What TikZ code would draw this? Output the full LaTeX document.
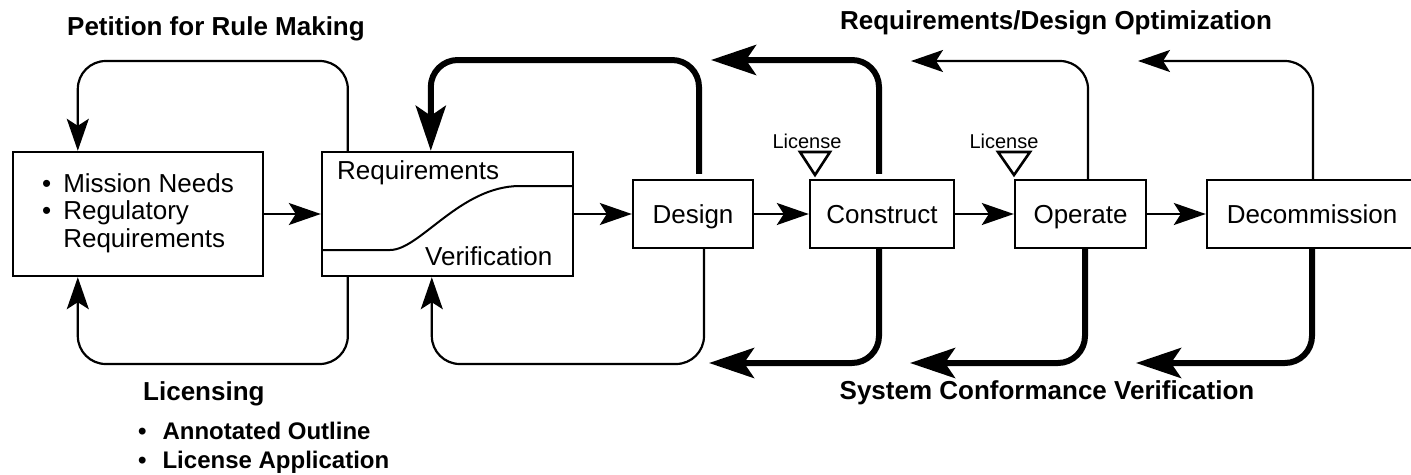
\documentclass[tikz,border=0pt]{standalone}
\usepackage{fontspec}
\setmainfont{Liberation Sans}
\usetikzlibrary{arrows.meta,calc}

\begin{document}
\begin{tikzpicture}[x=1pt,y=-1pt,
  box/.style={draw, line width=2.4pt, inner sep=0pt, font=\fontsize{26}{27.5}\selectfont},
  stagebox/.style={box, minimum height=68pt, text height=18.7pt, text depth=0pt},
  head/.style={font=\fontsize{26}{29}\selectfont\bfseries, inner sep=0pt},
  plain/.style={font=\fontsize{26}{29}\selectfont, inner sep=0pt},
  small/.style={font=\fontsize{20}{22}\selectfont, inner sep=0pt},
  thinline/.style={line width=2.2pt, rounded corners=28pt},
  thickline/.style={line width=6pt, rounded corners=27pt},
  tipthin/.style={-{Stealth[length=32pt,width=22pt,inset=7pt]}},
  tipthick/.style={-{Stealth[length=45pt,width=30pt,inset=10pt]}},
  marker/.style={line width=2.6pt, line join=miter}
]
\useasboundingbox (0,0) rectangle (1411,474);

% ---- boxes along the life cycle ----
\node[box, minimum width=250pt, minimum height=124pt] (mission) at (138,214)
  {\begin{tabular}{@{}l@{\hspace{12pt}}l@{}}•&Mission Needs\\•&Regulatory\\&Requirements\end{tabular}};
\node[box, minimum width=251pt, minimum height=124pt] (req) at (447.5,214) {};
\node[plain, anchor=base west] (reqtxt) at (337,179) {Requirements};
\node[plain, anchor=base west] (vertxt) at (425,265) {Verification};
\draw[line width=2pt] (322,250) -- (390,250) .. controls (420,250) and (460,186) .. (520,186) -- (573,186);

\node[stagebox, minimum width=120pt] (design) at (693,214) {Design};
\node[stagebox, minimum width=144pt] (construct) at (882,214) {Construct};
\node[stagebox, minimum width=131pt] (operate) at (1080.5,214) {Operate};
\node[stagebox, minimum width=210pt] (decom) at (1312,214) {Decommission};

% ---- forward flow ----
\draw[line width=2.2pt, tipthin] (mission) -- (req);
\draw[line width=2.2pt, tipthin] (req) -- (design);
\draw[line width=2.2pt, tipthin] (design) -- (construct);
\draw[line width=2.2pt, tipthin] (construct) -- (operate);
\draw[line width=2.2pt, tipthin] (operate) -- (decom);

% ---- levels of the feedback loops ----
\coordinate (top) at (0,61);
\coordinate (topk) at (0,60);
\coordinate (bot) at (0,364);

% ---- petition / licensing loops ----
\coordinate (a1) at ($(req.north west)+(27,0)$);
\coordinate (a2) at ($(mission.north west)+(66,0)$);
\draw[thinline, tipthin] (a1) -- (a1 |- top) -- (a2 |- top) -- (a2);
\coordinate (c1) at ($(req.south west)+(27,0)$);
\coordinate (c2) at ($(mission.south west)+(66,0)$);
\draw[thinline, tipthin] (c1) -- (c1 |- bot) -- (c2 |- bot) -- (c2);

% ---- design loops ----
\coordinate (b1) at ($(design.north)+(6,-5)$);
\coordinate (b2) at ($(req.north west)+(110,0)$);
\draw[thickline, tipthick] (b1) -- (b1 |- topk) -- (b2 |- topk) -- (b2);
\coordinate (d1) at ($(design.south)+(11,0)$);
\coordinate (d2) at ($(req.south west)+(111,0)$);
\draw[thinline, tipthin] (d1) -- (d1 |- bot) -- (d2 |- bot) -- (d2);

% ---- requirements/design optimization ----
\coordinate (cn) at ($(construct.north)+(-3,-5)$);
\coordinate (cnt) at (711,60);
\draw[thickline, tipthick] (cn) -- (cn |- cnt) -- (cnt);
\coordinate (on) at ($(operate.north)+(7.5,0)$);
\coordinate (ont) at (911,61);
\draw[thinline, tipthin] (on) -- (on |- ont) -- (ont);
\coordinate (dn) at ($(decom.north)+(1,0)$);
\coordinate (dnt) at (1138,61);
\draw[thinline, tipthin] (dn) -- (dn |- dnt) -- (dnt);

% ---- system conformance verification ----
\coordinate (cs) at ($(construct.south)+(-3,0)$);
\coordinate (cst) at (709,363);
\draw[thickline, tipthick] (cs) -- (cs |- cst) -- (cst);
\coordinate (os) at ($(operate.south)+(4.5,0)$);
\coordinate (ost) at (910,363);
\draw[thickline, tipthick] (os) -- (os |- ost) -- (ost);
\coordinate (ds) at (decom.south);
\coordinate (dst) at (1136,363);
\draw[thickline, tipthick] (ds) -- (ds |- dst) -- (dst);

% ---- license points ----
\node[small, anchor=base] (lic1) at (807,148) {License};
\draw[marker] (800,152) -- (830,152) -- (815,175) -- cycle;
\node[small, anchor=base] (lic2) at (1004,148) {License};
\draw[marker] (998,152) -- (1030,152) -- (1014,175) -- cycle;

% ---- headings ----
\node[head, anchor=base west] (petition) at (67,35) {Petition for Rule Making};
\node[head, anchor=base] (optim) at (1056,29) {Requirements/Design Optimization};
\node[head, anchor=base] (conform) at (1047,399) {System Conformance Verification};
\node[head, anchor=base west] (licensing) at (143,400) {Licensing};
\node[head, anchor=base west, font=\fontsize{24}{29}\selectfont\bfseries] (liclist) at (138,439)
  {\begin{tabular}[t]{@{}l@{\hspace{16pt}}l@{}}•&Annotated Outline\\•&License Application\end{tabular}};
\end{tikzpicture}
\end{document}
